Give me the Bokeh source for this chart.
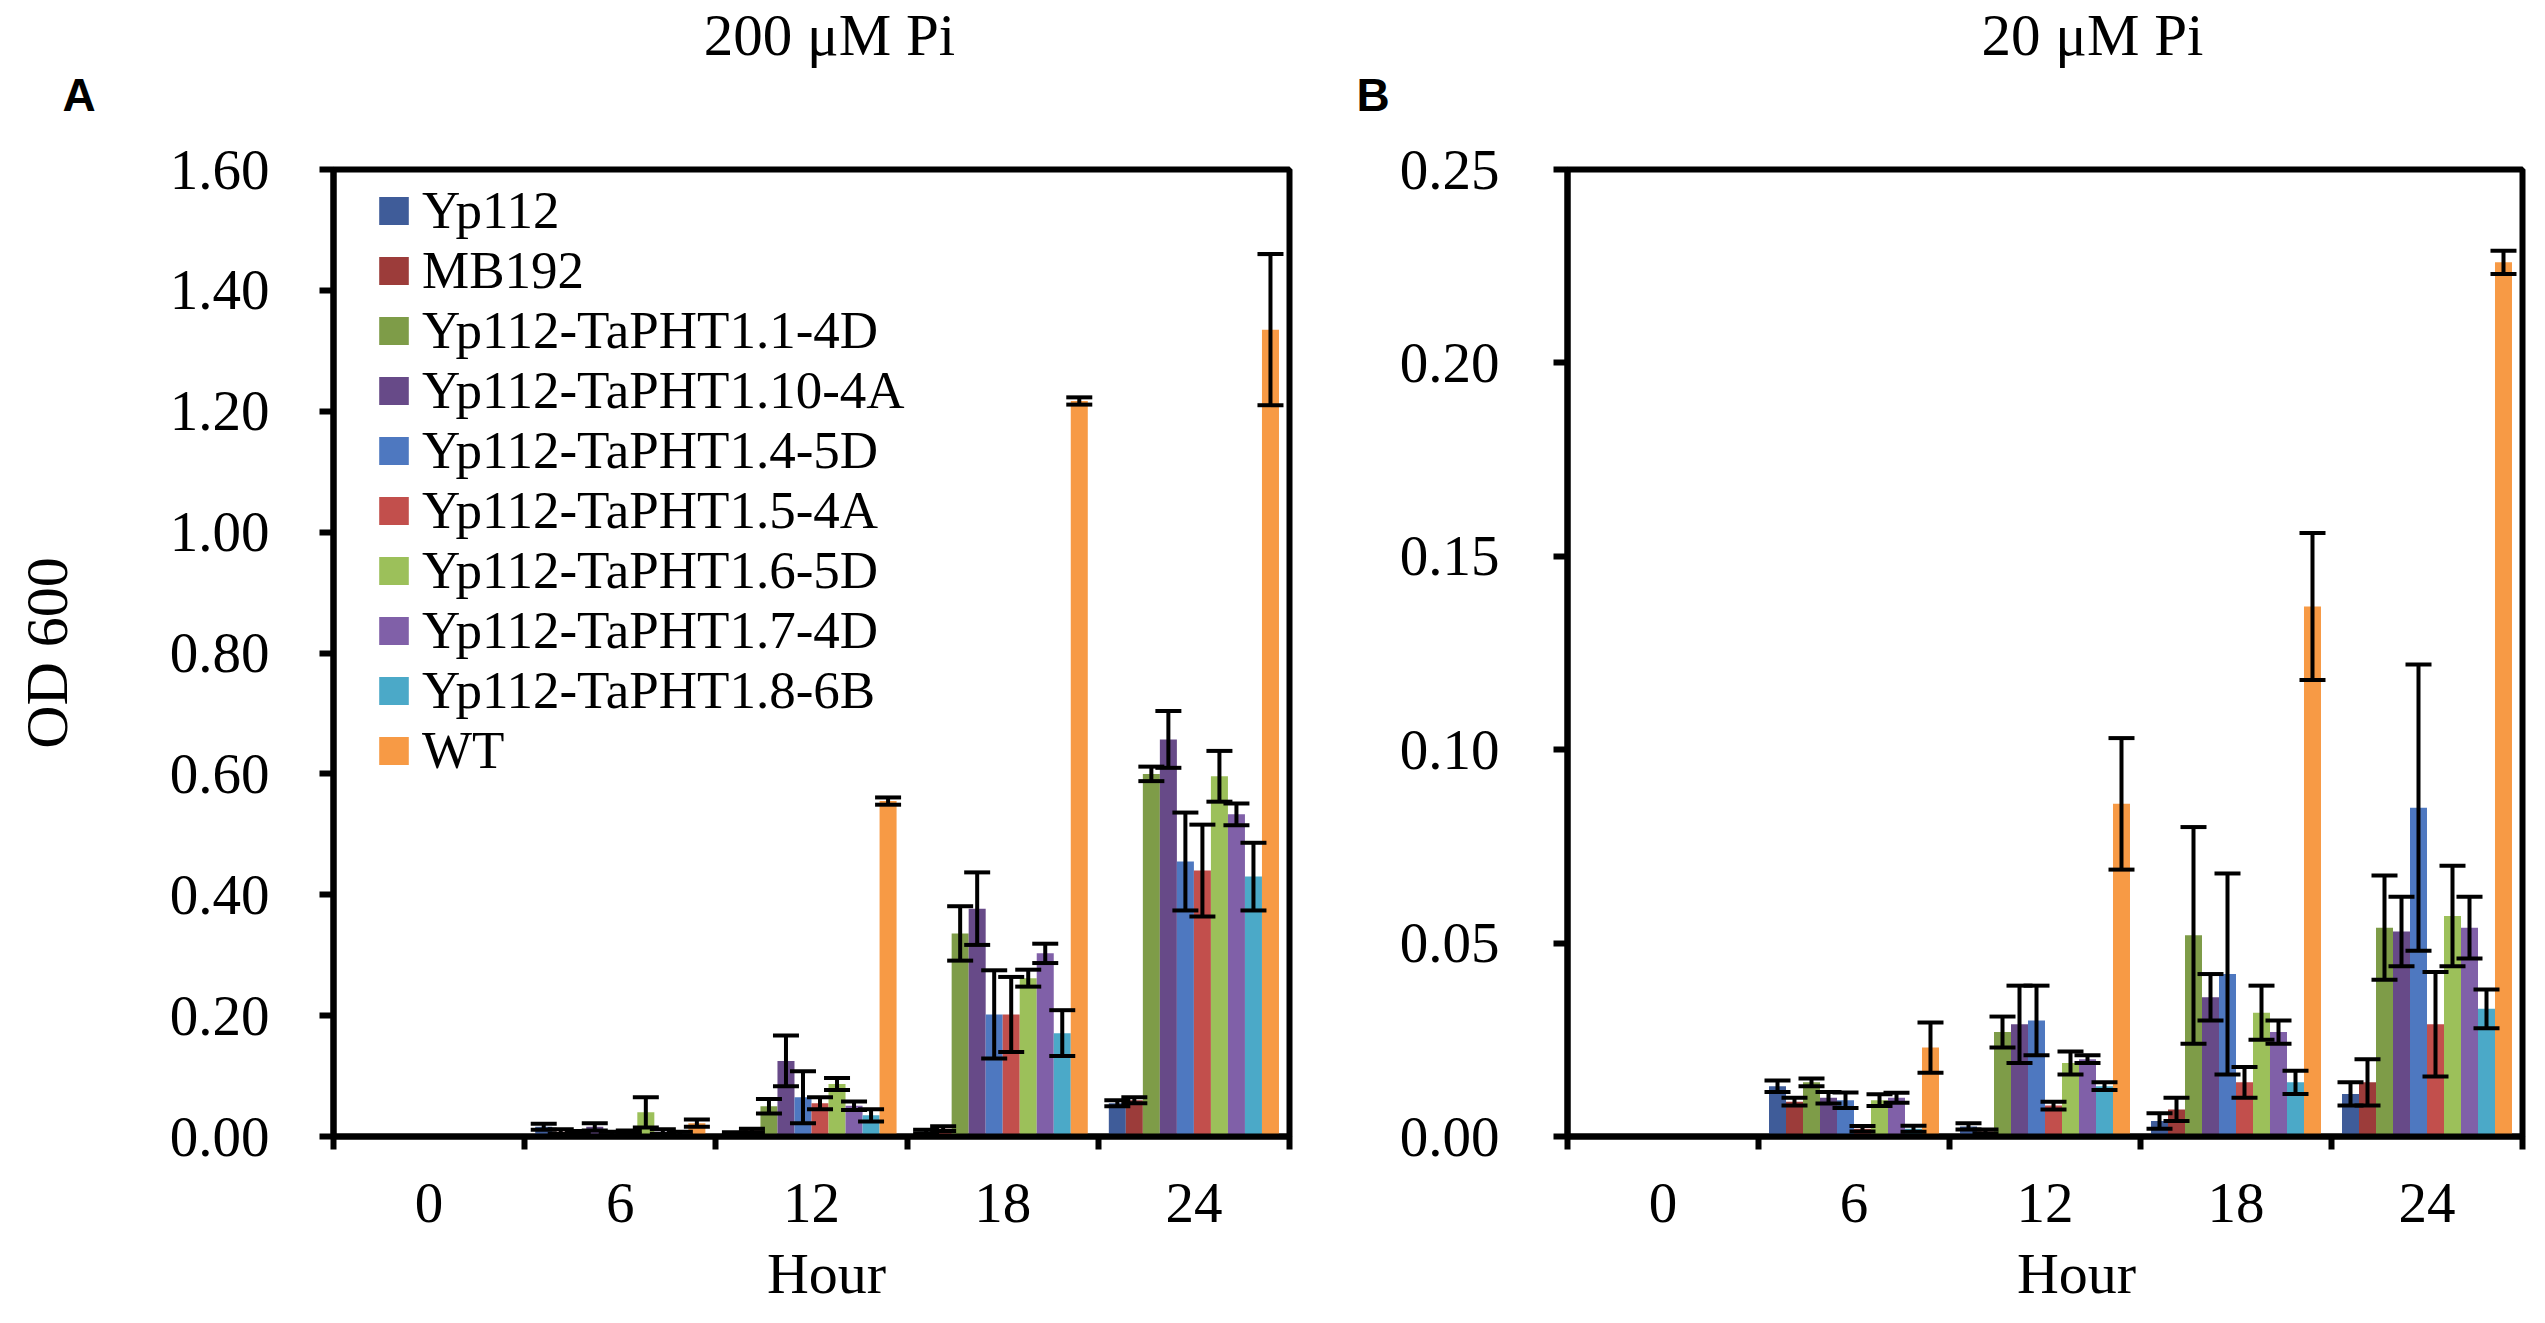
from bokeh.plotting import figure
from bokeh.models import (ColumnDataSource, Range1d, FixedTicker, NumeralTickFormatter,
                          Whisker, TeeHead, Legend, LegendItem, Label)
from bokeh.transform import dodge
from bokeh.layouts import row, column
from bokeh.embed import file_html
from bokeh.resources import INLINE

# ---------------- data ----------------
hours = ["0", "6", "12", "18", "24"]
series = ["Yp112", "MB192", "Yp112-TaPHT1.1-4D", "Yp112-TaPHT1.10-4A",
          "Yp112-TaPHT1.4-5D", "Yp112-TaPHT1.5-4A", "Yp112-TaPHT1.6-5D",
          "Yp112-TaPHT1.7-4D", "Yp112-TaPHT1.8-6B", "WT"]
colors = ["#3F5C99", "#9C3C3A", "#7E9C48", "#674A88", "#4E78C0",
          "#C24F4C", "#9CC05A", "#8060A8", "#4BA9C8", "#F79A45"]

# 200 uM Pi (panel A): OD600 per series at hours 0, 6, 12, 18, 24
a_yp112 = [0, 0.016, 0.005, 0.008, 0.055]
a_mb192 = [0, 0.008, 0.010, 0.013, 0.060]
a_t11 = [0, 0.006, 0.050, 0.336, 0.600]
a_t110 = [0, 0.016, 0.125, 0.377, 0.657]
a_t14 = [0, 0.005, 0.065, 0.202, 0.455]
a_t15 = [0, 0.007, 0.055, 0.202, 0.440]
a_t16 = [0, 0.040, 0.087, 0.262, 0.596]
a_t17 = [0, 0.008, 0.051, 0.303, 0.533]
a_t18 = [0, 0.005, 0.035, 0.171, 0.430]
a_wt = [0, 0.022, 0.555, 1.217, 1.335]

a_yp112_err = [0, 0.005, 0.002, 0.003, 0.005]
a_mb192_err = [0, 0.004, 0.003, 0.004, 0.005]
a_t11_err = [0, 0.003, 0.012, 0.045, 0.012]
a_t110_err = [0, 0.006, 0.042, 0.060, 0.047]
a_t14_err = [0, 0.003, 0.043, 0.073, 0.081]
a_t15_err = [0, 0.003, 0.010, 0.062, 0.076]
a_t16_err = [0, 0.025, 0.010, 0.014, 0.042]
a_t17_err = [0, 0.004, 0.007, 0.016, 0.018]
a_t18_err = [0, 0.003, 0.010, 0.038, 0.056]
a_wt_err = [0, 0.006, 0.006, 0.006, 0.125]

# 20 uM Pi (panel B)
b_yp112 = [0, 0.013, 0.0026, 0.004, 0.011]
b_mb192 = [0, 0.009, 0.0013, 0.007, 0.014]
b_t11 = [0, 0.014, 0.027, 0.052, 0.054]
b_t110 = [0, 0.010, 0.029, 0.036, 0.053]
b_t14 = [0, 0.0094, 0.030, 0.042, 0.085]
b_t15 = [0, 0.002, 0.008, 0.014, 0.029]
b_t16 = [0, 0.0094, 0.019, 0.032, 0.057]
b_t17 = [0, 0.010, 0.020, 0.027, 0.054]
b_t18 = [0, 0.002, 0.013, 0.014, 0.033]
b_wt = [0, 0.023, 0.086, 0.137, 0.226]

b_yp112_err = [0, 0.0015, 0.0008, 0.002, 0.003]
b_mb192_err = [0, 0.001, 0.0005, 0.003, 0.006]
b_t11_err = [0, 0.001, 0.004, 0.028, 0.0135]
b_t110_err = [0, 0.0015, 0.010, 0.006, 0.009]
b_t14_err = [0, 0.002, 0.009, 0.026, 0.037]
b_t15_err = [0, 0.0007, 0.001, 0.004, 0.0135]
b_t16_err = [0, 0.0015, 0.003, 0.007, 0.013]
b_t17_err = [0, 0.0013, 0.001, 0.003, 0.008]
b_t18_err = [0, 0.0008, 0.001, 0.003, 0.005]
b_wt_err = [0, 0.0065, 0.017, 0.019, 0.003]

a_ticks = [0.0, 0.2, 0.4, 0.6, 0.8, 1.0, 1.2, 1.4, 1.6]
b_ticks = [0.0, 0.05, 0.10, 0.15, 0.20, 0.25]

a_values = [a_yp112, a_mb192, a_t11, a_t110, a_t14, a_t15, a_t16, a_t17, a_t18, a_wt]
a_errors = [a_yp112_err, a_mb192_err, a_t11_err, a_t110_err, a_t14_err, a_t15_err,
            a_t16_err, a_t17_err, a_t18_err, a_wt_err]
b_values = [b_yp112, b_mb192, b_t11, b_t110, b_t14, b_t15, b_t16, b_t17, b_t18, b_wt]
b_errors = [b_yp112_err, b_mb192_err, b_t11_err, b_t110_err, b_t14_err, b_t15_err,
            b_t16_err, b_t17_err, b_t18_err, b_wt_err]

SERIF = "Liberation Serif"
SANS = "Liberation Sans"
BW = 0.089

WA, WB = 1332, 1197
HEAD_H, PANEL_H, FOOT_H = 130, 1106, 71
LEGEND_VY = 356


def make_panel(values, errors, ymax, ticks, width, bl, br, bt, bb,
               tick_standoff, ylabel, with_legend):
    p = figure(width=width, height=PANEL_H, x_range=Range1d(-0.5, 4.5),
               y_range=Range1d(0, ymax), output_backend="svg", toolbar_location=None,
               title_location=None,
               min_border_left=bl, min_border_right=br, min_border_top=bt,
               min_border_bottom=bb)
    p.xgrid.visible = False
    p.ygrid.visible = False
    p.outline_line_color = "black"
    p.outline_line_width = 6
    p.background_fill_color = "white"
    p.border_fill_color = "white"

    xi = list(range(len(hours)))
    renderers = []
    for j, name in enumerate(series):
        off = (j - 4.5) * BW
        vals = values[j]
        errs = errors[j]
        src = ColumnDataSource(dict(xi=xi, top=vals))
        r = p.vbar(x=dodge("xi", off, range=p.x_range), top="top", bottom=0,
                   width=BW, fill_color=colors[j], line_color=None, source=src)
        renderers.append(r)
        keep = [k for k in xi if vals[k] > 0]
        wsrc = ColumnDataSource(dict(
            xi=[xi[k] for k in keep],
            upper=[vals[k] + errs[k] for k in keep],
            lower=[vals[k] - errs[k] for k in keep]))
        w = Whisker(source=wsrc, base=dodge("xi", off, range=p.x_range),
                    upper="upper", lower="lower", line_width=4, line_color="black",
                    upper_head=TeeHead(size=26, line_width=4, line_color="black"),
                    lower_head=TeeHead(size=26, line_width=4, line_color="black"),
                    level="overlay")
        p.add_layout(w)

    xa = p.xaxis[0]
    xa.ticker = FixedTicker(ticks=xi, minor_ticks=[-0.5, 0.5, 1.5, 2.5, 3.5, 4.5])
    xa.major_label_overrides = {k: hours[k] for k in xi}
    xa.major_tick_line_color = None
    xa.major_tick_out = 0
    xa.major_tick_in = 0
    xa.minor_tick_out = 13
    xa.minor_tick_in = 0
    xa.minor_tick_line_width = 6
    xa.minor_tick_line_color = "black"
    xa.axis_line_width = 6
    xa.axis_line_color = "black"
    xa.major_label_text_font = SERIF
    xa.major_label_text_font_size = "57px"
    xa.major_label_text_color = "black"
    xa.major_label_standoff = 34

    ya = p.yaxis[0]
    ya.ticker = FixedTicker(ticks=ticks, minor_ticks=[])
    ya.formatter = NumeralTickFormatter(format="0.00")
    ya.major_tick_out = 14
    ya.major_tick_in = 0
    ya.major_tick_line_width = 6
    ya.major_tick_line_color = "black"
    ya.minor_tick_line_color = None
    ya.axis_line_width = 6
    ya.axis_line_color = "black"
    ya.major_label_text_font = SERIF
    ya.major_label_text_font_size = "57px"
    ya.major_label_text_color = "black"
    ya.major_label_standoff = tick_standoff
    if ylabel:
        ya.axis_label = ylabel
        ya.axis_label_text_font = SERIF
        ya.axis_label_text_font_size = "60px"
        ya.axis_label_text_font_style = "normal"
        ya.axis_label_text_color = "black"
        ya.axis_label_standoff = 87

    if with_legend:
        items = [LegendItem(label=name, renderers=[renderers[j]])
                 for j, name in enumerate(series)]
        leg = Legend(items=items, location=(42, LEGEND_VY), padding=0, spacing=0,
                     margin=0, glyph_width=37, glyph_height=35, label_standoff=10,
                     label_height=58, label_text_font=SERIF,
                     label_text_font_size="53px", label_text_color="black",
                     border_line_color=None, background_fill_alpha=0)
        p.add_layout(leg)
    return p


def strip(width, height):
    s = figure(width=width, height=height, x_range=Range1d(0, width),
               y_range=Range1d(0, height), output_backend="svg", toolbar_location=None,
               title_location=None, x_axis_location=None, y_axis_location=None,
               min_border=0, min_border_left=0, min_border_right=0,
               min_border_top=0, min_border_bottom=0)
    s.xgrid.visible = False
    s.ygrid.visible = False
    s.outline_line_color = None
    s.background_fill_color = "white"
    s.border_fill_color = "white"
    return s


def lab(s, x, y, text, size, font=SERIF, bold=False, align="center"):
    s.add_layout(Label(x=x, y=y, text=text, text_font=font, text_font_size=size,
                       text_font_style="bold" if bold else "normal",
                       text_align=align, text_baseline="middle",
                       text_color="black"))


pa = make_panel(a_values, a_errors, 1.6, a_ticks, WA, 333, 43, 34, 100, 50, "OD 600", True)
pb = make_panel(b_values, b_errors, 0.25, b_ticks, WB, 235, 7, 39, 100, 54, None, False)

ha = strip(WA, HEAD_H)
lab(ha, 829, 96, "200 \u03bcM Pi", "59px")
lab(ha, 62, 36, "A", "46px", font=SANS, bold=True, align="left")
hb = strip(WB, HEAD_H)
lab(hb, 760, 96, "20 \u03bcM Pi", "59px")
lab(hb, 24, 36, "B", "46px", font=SANS, bold=True, align="left")

fa = strip(WA, FOOT_H)
lab(fa, 826, 34, "Hour", "58px")
fb = strip(WB, FOOT_H)
lab(fb, 744, 34, "Hour", "58px")

layout = column(row(ha, hb), row(pa, pb), row(fa, fb))
open("out.html", "w").write(file_html(layout, INLINE))
